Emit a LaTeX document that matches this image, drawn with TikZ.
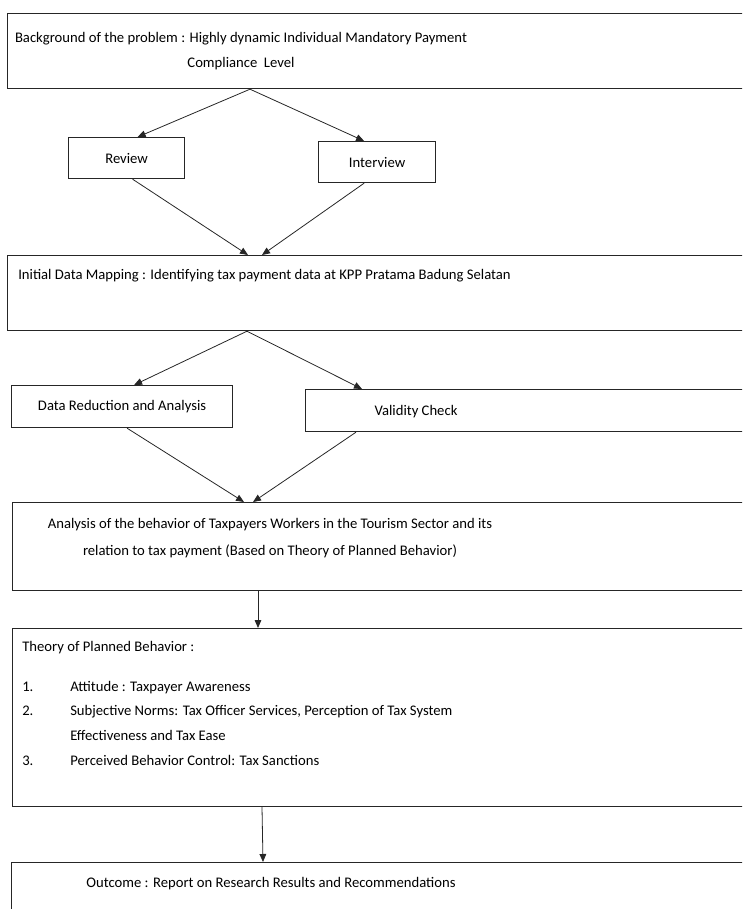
\documentclass[tikz,border=0pt]{standalone}
\usepackage{fontspec}
\setmainfont{Carlito}
\usetikzlibrary{positioning, calc}
\usetikzlibrary{arrows.meta}

\begin{document}
\begin{tikzpicture}[x=0.75pt, y=-0.75pt,
    box/.style={draw=black!85, line width=0.9pt, rectangle, inner sep=0pt, anchor=north west},
    txt/.style={inner sep=0pt, font=\fontsize{11}{18.75}\selectfont},
    arr/.style={draw=black!85, line width=0.6pt, -{Triangle[length=6pt, width=5pt]}}]

    % Page frame (the wide boxes run past the right and bottom edge)
    \useasboundingbox (0,0) rectangle (742,909);
    \clip (0,0) rectangle (742,909);

    % Boxes
    \node[box, minimum width=570pt, minimum height=56.25pt] (bg) at (7,13) {};
    \node[box, txt, minimum width=87pt, minimum height=30.75pt] (review) at (68,137) {Review};
    \node[box, txt, minimum width=87.75pt, minimum height=30.75pt] (interview) at (318,141) {Interview};
    \node[box, minimum width=570pt, minimum height=56.25pt] (map) at (7,255) {};
    \node[box, txt, minimum width=165.75pt, minimum height=31.5pt] (datared) at (11,385) {Data Reduction and Analysis};
    \node[box, minimum width=400pt, minimum height=31.5pt] (validity) at (305,389) {};
    \node[box, minimum width=570pt, minimum height=66pt] (analysis) at (12,502) {};
    \node[box, minimum width=570pt, minimum height=133.5pt] (tpb) at (12,628) {};
    \node[box, minimum width=570pt, minimum height=60pt] (outcome) at (11,862) {};

    % Texts
    \node[txt, align=center] (bgtxt) at (241,51) {Background of the problem : Highly dynamic Individual Mandatory Payment\\Compliance\ \ Level};
    \node[txt, anchor=west] (maptxt) at (18,276) {Initial Data Mapping : Identifying tax payment data at KPP Pratama Badung Selatan};
    \node[txt] (valtxt) at (416,412) {Validity Check};
    \node[txt, align=center, font=\fontsize{11}{20.25}\selectfont] (anatxt) at (270,538) {Analysis of the behavior of Taxpayers Workers in the Tourism Sector and its\\relation to tax payment (Based on Theory of Planned Behavior)};
    \node[txt, align=left, anchor=north west, font=\fontsize{11}{18.4}\selectfont] (tpbtxt) at (22,641) {Theory of Planned Behavior :\\[11.6pt]
        \makebox[36pt][l]{1.}Attitude : Taxpayer Awareness\\
        \makebox[36pt][l]{2.}Subjective Norms: Tax Officer Services, Perception of Tax System\\
        \hspace*{36pt}Effectiveness and Tax Ease\\
        \makebox[36pt][l]{3.}Perceived Behavior Control: Tax Sanctions};
    \node[txt] (outtxt) at (271,884) {Outcome : Report on Research Results and Recommendations};

    % Connectors
    \coordinate (bgout) at ($(bg.south west)+(243,0)$);
    \draw[arr] (bgout) -- ($(review.north)+(11,0)$);
    \draw[arr] (bgout) -- ($(interview.north)+(-13,0)$);
    \draw[arr] ($(review.south)+(6,0)$) -- ($(map.north west)+(241,0)$);
    \draw[arr] ($(interview.south)+(-13,0)$) -- ($(map.north west)+(255,0)$);

    \coordinate (mapout) at ($(map.south west)+(240,0)$);
    \draw[arr] (mapout) -- ($(datared.north)+(12,0)$);
    \draw[arr] (mapout) -- ($(validity.north west)+(57,0)$);
    \draw[arr] ($(datared.south)+(5,0)$) -- ($(analysis.north west)+(232,0)$);
    \draw[arr] ($(validity.south west)+(51,0)$) -- ($(analysis.north west)+(241,0)$);

    \draw[arr] ($(analysis.south west)+(246,0)$) -- ($(tpb.north west)+(246,0)$);
    \draw[arr] ($(tpb.south west)+(250,0)$) -- ($(outcome.north west)+(252,0)$);

\end{tikzpicture}
\end{document}
